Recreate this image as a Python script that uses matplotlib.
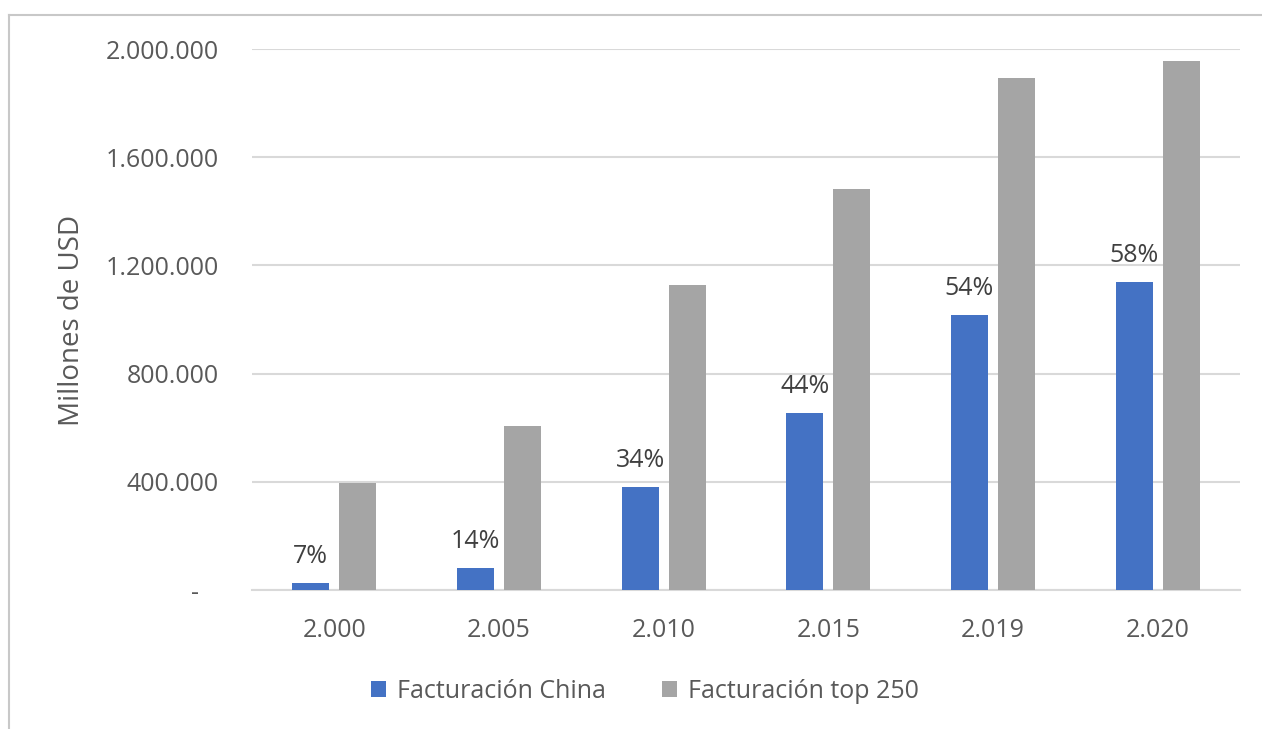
import matplotlib
matplotlib.use("Agg")
import matplotlib.pyplot as plt
from matplotlib.lines import Line2D
from matplotlib.ticker import FuncFormatter
import numpy as np

plt.rcParams['font.family'] = ['Open Sans', 'DejaVu Sans']

years = ["2.000", "2.005", "2.010", "2.015", "2.019", "2.020"]
china = [27000, 82000, 381000, 655000, 1017000, 1139000]
top250 = [395000, 606000, 1127000, 1482000, 1894000, 1957000]
pct_labels = ["7%", "14%", "34%", "44%", "54%", "58%"]
series_names = ["Facturación China", "Facturación top 250"]

blue = "#4472C4"
gray = "#A5A5A5"
text_col = "#595959"
grid_col = "#D9D9D9"

W, H = 1262, 729
fig = plt.figure(figsize=(W / 100, H / 100), dpi=100)
ax = fig.add_axes([252 / W, 1 - 590 / H, 988 / W, 541 / H])

x = np.arange(len(years))
bw = 0.225
off = 0.143
b1 = ax.bar(x - off, china, bw, color=blue, label=series_names[0], zorder=3)
b2 = ax.bar(x + off, top250, bw, color=gray, label=series_names[1], zorder=3)

for xi, v, lab in zip(x, china, pct_labels):
    ax.annotate(lab, (xi - off, v), xytext=(0, 14), textcoords="offset points",
                ha="center", va="baseline", fontsize=18, color="#404040")

ax.set_xlim(-0.5, len(years) - 0.5)
ax.set_ylim(0, 2000000)
ax.set_yticks(np.arange(0, 2000001, 400000))


def fmt(v, pos):
    if v == 0:
        return "-   "
    return f"{int(v):,}".replace(",", ".")


ax.yaxis.set_major_formatter(FuncFormatter(fmt))
ax.set_xticks(x)
ax.set_xticklabels(years)
ax.tick_params(axis="both", length=0, labelsize=18, labelcolor=text_col)
ax.tick_params(axis="y", pad=24)
ax.tick_params(axis="x", pad=20)

ax.grid(axis="y", color=grid_col, linewidth=1.5, zorder=0)
ax.set_axisbelow(True)
for s in ["top", "right", "left"]:
    ax.spines[s].set_visible(False)
ax.spines["bottom"].set_color(grid_col)
ax.spines["bottom"].set_linewidth(1.5)

ax.set_ylabel("Millones de USD", fontsize=20, color=text_col)
ax.yaxis.set_label_coords((86 - 252) / 988, (590 - 320) / 541)

leg = fig.legend(handles=[b1, b2], loc="center", bbox_to_anchor=(645 / W, 1 - 691 / H),
                 ncol=2, frameon=False, fontsize=18, handlelength=0.6, handleheight=0.6,
                 handletextpad=0.45, columnspacing=2.25, labelcolor=text_col)

# outer chart border (top and left visible)
fig.add_artist(Line2D([9 / W, 1.0], [1 - 15 / H, 1 - 15 / H], color="#C8C8C8", linewidth=1.5,
                      transform=fig.transFigure))
fig.add_artist(Line2D([9 / W, 9 / W], [0, 1 - 15 / H], color="#C8C8C8", linewidth=1.5,
                      transform=fig.transFigure))

fig.savefig("out.png", dpi=100)
